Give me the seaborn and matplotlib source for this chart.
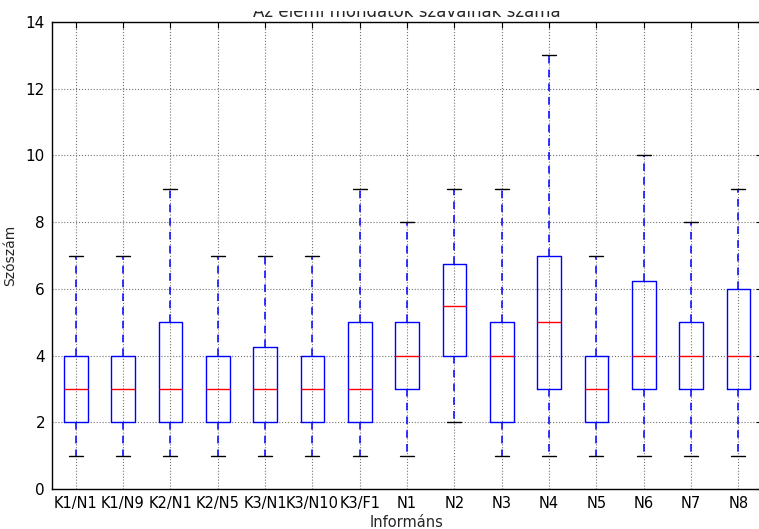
import matplotlib
matplotlib.use("Agg")
import matplotlib.pyplot as plt
from matplotlib.transforms import Bbox
import seaborn as sns
import pandas as pd

informants = ["K1/N1", "K1/N9", "K2/N1", "K2/N5", "K3/N1", "K3/N10", "K3/F1",
              "N1", "N2", "N3", "N4", "N5", "N6", "N7", "N8"]
mins    = [1, 1, 1, 1, 1,    1, 1, 1, 2,   1, 1, 1, 1,    1, 1]
q1s     = [2, 2, 2, 2, 2,    2, 2, 3, 4,   2, 3, 2, 3,    3, 3]
medians = [3, 3, 3, 3, 3,    3, 3, 4, 5.5, 4, 5, 3, 4,    4, 4]
q3s     = [4, 4, 5, 4, 4.25, 4, 5, 5, 6.75, 5, 7, 4, 6.25, 5, 6]
maxs    = [7, 7, 9, 7, 7,    7, 9, 8, 9,   9, 13, 7, 10,  8, 9]

rows = []
for name, a, b, c, d, e in zip(informants, mins, q1s, medians, q3s, maxs):
    for v in (a, b, c, d, e):
        rows.append({"Informáns": name, "Szószám": v})
df = pd.DataFrame(rows)

sns.set_style("white")
plt.rcParams["font.family"] = ["DejaVu Sans"]

W, H = 759, 529
fig = plt.figure(figsize=(W / 100, H / 100), dpi=100)
ax = fig.add_axes([52 / W, 1 - 489 / H, 710 / W, 467 / H])

sns.boxplot(data=df, x="Informáns", y="Szószám", order=informants, ax=ax,
            whis=(0, 100), width=0.5, fill=False, linecolor="blue",
            linewidth=1, showfliers=False,
            boxprops={"color": "blue", "linewidth": 1},
            whiskerprops={"color": "blue", "linestyle": (0, (5, 4)), "linewidth": 1.1},
            capprops={"color": "black", "linewidth": 1},
            medianprops={"color": "red", "linewidth": 1},
            capwidths=0.3)

ax.set_ylim(0, 14)
ax.set_xlim(-0.5, len(informants) - 0.5)
ax.set_yticks(range(0, 15, 2))
ax.grid(True, linestyle=":", color="0.45", linewidth=0.8)
ax.set_axisbelow(True)
for s in ax.spines.values():
    s.set_visible(True)
    s.set_color("black")
    s.set_linewidth(1)
ax.tick_params(axis="both", which="both", direction="in", top=True, right=True,
               length=4, colors="black")
ax.tick_params(axis="x", labelsize=10.5, pad=5)
ax.tick_params(axis="y", labelsize=11, pad=5)
ax.set_xlabel("Informáns", fontsize=10.5, labelpad=3)
ax.set_ylabel("Szószám", fontsize=10, labelpad=6)
title = ax.set_title("Az elemi mondatok szavainak száma", fontsize=12, pad=3.6)
title.set_clip_box(Bbox([[0, 0], [W, H - 10.5]]))
title.set_clip_on(True)

fig.savefig("out.png", dpi=100)
